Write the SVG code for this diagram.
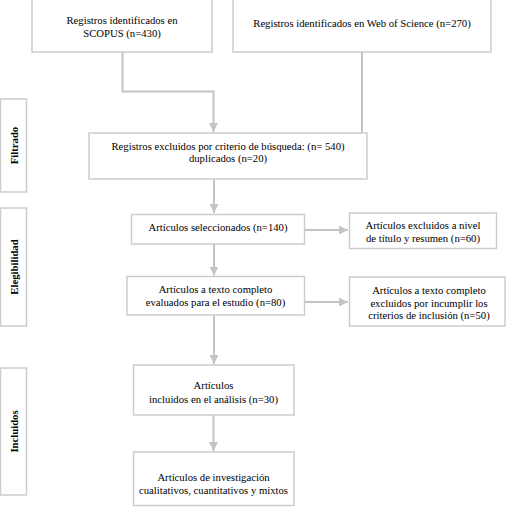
<svg xmlns="http://www.w3.org/2000/svg" width="515" height="516" viewBox="0 0 515 516">
<style>
.box{fill:#fff;stroke:#cdcdcd;stroke-width:1.5}
.t{font-family:"Liberation Serif","Times New Roman",serif;font-size:10.7px;fill:#000;text-anchor:middle}
.s{font-family:"Liberation Serif","Times New Roman",serif;font-size:10.7px;font-weight:bold;fill:#000;text-anchor:middle}
.c{fill:none;stroke:#c4c4c4;stroke-width:2}
</style>
<defs>
<marker id="ah" viewBox="0 0 10 10" refX="10" refY="5" markerWidth="4.5" markerHeight="4.5" orient="auto" markerUnits="strokeWidth">
<path d="M0,0 L10,5 L0,10 z" fill="#c4c4c4"/>
</marker>
</defs>
<rect width="515" height="516" fill="#fff"/>
<g id="connectors">
<path class="c" d="M122.5,52 V91.5 H213.5 V132" marker-end="url(#ah)"/>
<path class="c" d="M362,52 V133"/>
<path class="c" d="M214,179 V213" marker-end="url(#ah)"/>
<path class="c" d="M305,230 H348" marker-end="url(#ah)"/>
<path class="c" d="M214,244 V275.5" marker-end="url(#ah)"/>
<path class="c" d="M305,302 H348" marker-end="url(#ah)"/>
<path class="c" d="M214,315 V364" marker-end="url(#ah)"/>
<path class="c" d="M213.5,415 V451" marker-end="url(#ah)"/>
</g>
<g id="side-filtrado">
<rect class="box" x="0.5" y="99" width="26" height="93"/>
<text class="s" transform="translate(17.5,145.5) rotate(-90)">Filtrado</text>
</g>
<g id="side-elegibilidad">
<rect class="box" x="0.5" y="208" width="26" height="118"/>
<text class="s" transform="translate(17.5,267) rotate(-90)">Elegibilidad</text>
</g>
<g id="side-incluidos">
<rect class="box" x="0.5" y="368" width="26" height="127"/>
<text class="s" transform="translate(17.5,431.5) rotate(-90)">Incluidos</text>
</g>
<g id="scopus">
<rect class="box" x="32" y="-1" width="180" height="53"/>
<text class="t" x="122" y="23.5">Registros identificados en</text>
<text class="t" x="122" y="37">SCOPUS (n=430)</text>
</g>
<g id="wos">
<rect class="box" x="233" y="-1" width="258" height="53"/>
<text class="t" x="362" y="26.5">Registros identificados en Web of Science (n=270)</text>
</g>
<g id="filtro">
<rect class="box" x="89" y="133" width="278" height="46"/>
<text class="t" x="228" y="149.5">Registros excluidos por criterio de búsqueda: (n= 540)</text>
<text class="t" x="228" y="162">duplicados (n=20)</text>
</g>
<g id="seleccionados">
<rect class="box" x="131.5" y="214.5" width="173" height="29.5"/>
<text class="t" x="218" y="231">Artículos seleccionados (n=140)</text>
</g>
<g id="excluidos-titulo">
<rect class="box" x="349.5" y="213" width="147" height="35.5"/>
<text class="t" x="423" y="229">Artículos excluidos a nivel</text>
<text class="t" x="423" y="242">de título y resumen (n=60)</text>
</g>
<g id="texto-completo">
<rect class="box" x="127" y="276.5" width="177.5" height="38.5"/>
<text class="t" x="215.5" y="293">Artículos a texto completo</text>
<text class="t" x="215.5" y="306">evaluados para el estudio (n=80)</text>
</g>
<g id="excluidos-criterios">
<rect class="box" x="349.5" y="277" width="155.5" height="49"/>
<text class="t" x="429" y="294">Artículos a texto completo</text>
<text class="t" x="429" y="306.5">excluidos por incumplir los</text>
<text class="t" x="429" y="319">criterios de inclusión (n=50)</text>
</g>
<g id="incluidos">
<rect class="box" x="133.5" y="365" width="160.5" height="50"/>
<text class="t" x="213.5" y="388.5">Artículos</text>
<text class="t" x="213.5" y="402.5">incluidos en el análisis (n=30)</text>
</g>
<g id="investigacion">
<rect class="box" x="133.5" y="452" width="160.5" height="53.5"/>
<text class="t" x="213.5" y="481">Artículos de investigación</text>
<text class="t" x="213.5" y="494">cualitativos, cuantitativos y mixtos</text>
</g>
</svg>
